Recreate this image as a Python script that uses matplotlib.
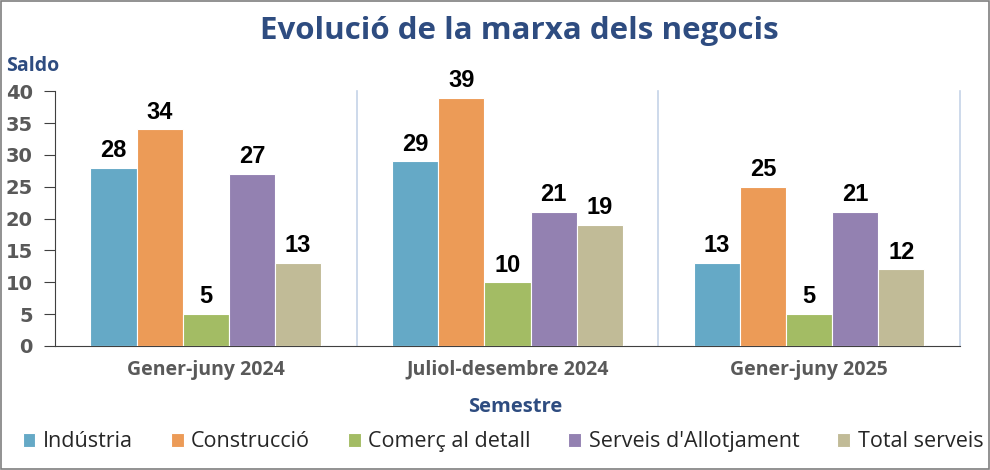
import matplotlib.pyplot as plt
import numpy as np
from matplotlib.patches import Rectangle

# Dades
semestres = ['Gener-juny 2024', 'Juliol-desembre 2024', 'Gener-juny 2025']
sectors = ['Indústria', 'Construcció', 'Comerç al detall', "Serveis d'Allotjament", 'Total serveis']
valors = {
    'Indústria': [28, 29, 13],
    'Construcció': [34, 39, 25],
    'Comerç al detall': [5, 10, 5],
    "Serveis d'Allotjament": [27, 21, 21],
    'Total serveis': [13, 19, 12],
}
colors = ['#65A9C6', '#EC9B57', '#A3BC64', '#9381B1', '#C1BB97']

fig = plt.figure(figsize=(9.9, 4.7), dpi=100)
ax = fig.add_axes([0.0556, 0.264, 0.914, 0.542])

x = np.arange(len(semestres))
w = 0.153
for i, s in enumerate(sectors):
    pos = x + (i - 2) * w
    bars = ax.bar(pos, valors[s], w, color=colors[i], edgecolor='white', linewidth=0.8, label=s, zorder=3)
    for b, v in zip(bars, valors[s]):
        ax.text(b.get_x() + b.get_width() / 2, v + 0.9, str(v), ha='center', va='bottom',
                fontsize=17, fontweight='bold', family='Liberation Sans', color='black')

ax.set_xlim(-0.5, 2.5)
ax.set_ylim(0, 40)
ax.set_yticks(range(0, 41, 5))
ax.set_xticks(x)
ax.set_xticklabels(semestres, fontsize=14, fontweight='bold', family='Open Sans', color='#595959')
ax.tick_params(axis='x', length=0, pad=10)
ax.tick_params(axis='y', direction='out', length=8, color='#404040', labelsize=14,
               labelcolor='#595959', pad=8)
for lab in ax.get_yticklabels():
    lab.set_fontweight('bold')
    lab.set_family('DejaVu Sans')

# separadors verticals
for xs in [0.5, 1.5, 2.5]:
    ax.axvline(xs, color='#C5D3E8', linewidth=1.2, zorder=1, clip_on=False)

for sp in ['top', 'right']:
    ax.spines[sp].set_visible(False)
ax.spines['left'].set_color('#404040')
ax.spines['bottom'].set_color('#404040')

fig.text(0.525, 0.935, 'Evolució de la marxa dels negocis', ha='center', va='center',
         fontsize=22.5, fontweight='bold', family='Open Sans', color='#2E4C80')
fig.text(0.006, 0.86, 'Saldo', ha='left', va='center', fontsize=14, fontweight='bold',
         family='Open Sans', color='#2E4C80')
fig.text(0.52, 0.135, 'Semestre', ha='center', va='center', fontsize=14.5, fontweight='bold',
         family='Open Sans', color='#2E4C80')

leg = fig.legend(loc='center', bbox_to_anchor=(0.508, 0.06), ncol=5, frameon=False,
                 prop={'family': 'Open Sans', 'size': 15.5}, handlelength=0.6, handleheight=0.6,
                 handletextpad=0.35, columnspacing=1.75)
for t in leg.get_texts():
    t.set_color('#262626')

# marc de la figura
fig.patches.append(Rectangle((0.001, 0.002), 0.998, 0.996, transform=fig.transFigure,
                             fill=False, edgecolor='#7F7F7F', linewidth=1.2))

plt.savefig('out.png', dpi=100)
